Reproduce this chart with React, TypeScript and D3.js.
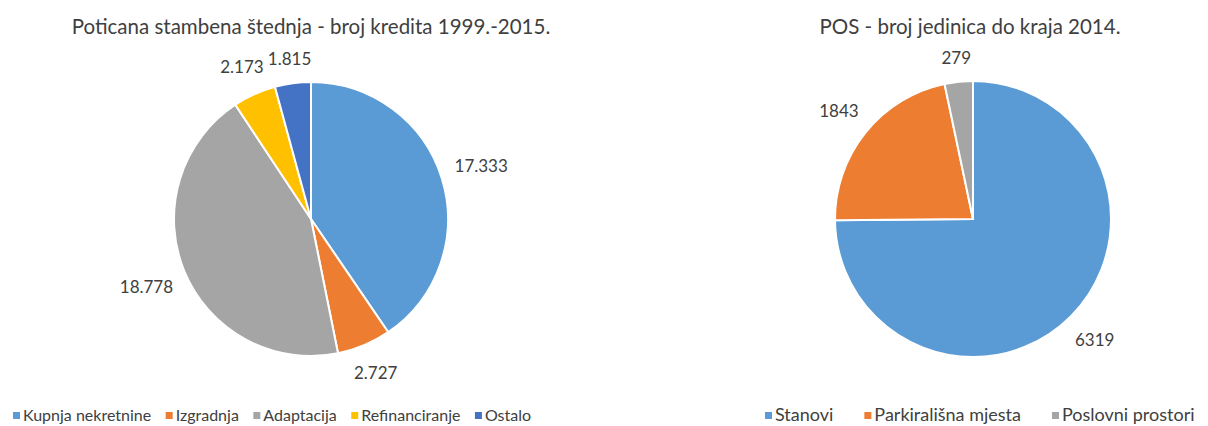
import React from "react";
import * as d3 from "d3";

const leftTitle = "Poticana stambena štednja - broj kredita 1999.-2015.";
const leftCategories = ["Kupnja nekretnine", "Izgradnja", "Adaptacija", "Refinanciranje", "Ostalo"];
const leftValues = [17333, 2727, 18778, 2173, 1815];
const leftLabels = ["17.333", "2.727", "18.778", "2.173", "1.815"];
const leftColors = ["#5B9BD5", "#ED7D31", "#A5A5A5", "#FFC000", "#4472C4"];

const rightTitle = "POS - broj jedinica do kraja 2014.";
const rightCategories = ["Stanovi", "Parkirališna mjesta", "Poslovni prostori"];
const rightValues = [6319, 1843, 279];
const rightLabels = ["6319", "1843", "279"];
const rightColors = ["#5B9BD5", "#ED7D31", "#A5A5A5"];

const FONT = "Lato, 'Open Sans', sans-serif";
const TEXT = "#404040";

function measure(text: string, size: number) {
  const c = document.createElement("canvas").getContext("2d")!;
  c.font = `${size}px Lato`;
  return c.measureText(text).width;
}

function Pie({ cx, cy, r, title, titleX, values, labels, colors, categories, legendX, legendGap, legendSize }: any) {
  const pie = d3.pie<number>().sort(null).value((d) => d);
  const arcs = pie(values);
  const arc = d3.arc<d3.PieArcDatum<number>>().innerRadius(0).outerRadius(r);
  const labelSize = 17;
  let lx = legendX;
  const legendItems = categories.map((c: string, i: number) => {
    const x = lx;
    lx += 10 + measure(c, legendSize) + legendGap;
    return { c, x, color: colors[i] };
  });
  return (
    <g>
      <text x={titleX} y={34} textAnchor="middle" fontSize={20.5} fill={TEXT} fontFamily={FONT}>
        {title}
      </text>
      <g transform={`translate(${cx},${cy})`}>
        {arcs.map((a, i) => (
          <path key={i} d={arc(a)!} fill={colors[i]} stroke="#fff" strokeWidth={2} />
        ))}
        {arcs.map((a, i) => {
          const mid = (a.startAngle + a.endAngle) / 2;
          const s = Math.sin(mid), c = Math.cos(mid);
          const w = measure(labels[i], labelSize);
          const h = 18;
          const d = r + 13 + (w / 2) * Math.abs(s) + (h / 2) * Math.abs(c);
          return (
            <text key={i} x={d * s} y={-d * c} dy="0.35em" textAnchor="middle" fontSize={labelSize} fill={TEXT} fontFamily={FONT}>
              {labels[i]}
            </text>
          );
        })}
      </g>
      {legendItems.map((l: any, i: number) => (
        <g key={i}>
          <rect x={l.x} y={412} width={7} height={7} fill={l.color} />
          <text x={l.x + 10} y={421} fontSize={legendSize} fill={TEXT} fontFamily={FONT}>
            {l.c}
          </text>
        </g>
      ))}
    </g>
  );
}

export default function App() {
  return (
    <svg width={1208} height={426} style={{ position: "absolute", left: 0, top: 0, background: "#fff" }}>
      <rect width={1208} height={426} fill="#fff" />
      <Pie cx={311} cy={219} r={137} title={leftTitle} titleX={311} values={leftValues} labels={leftLabels} colors={leftColors} categories={leftCategories} legendX={13} legendGap={14.5} legendSize={16} />
      <Pie cx={973} cy={219} r={138} title={rightTitle} titleX={970} values={rightValues} labels={rightLabels} colors={rightColors} categories={rightCategories} legendX={765} legendGap={31} legendSize={18} />
    </svg>
  );
}
